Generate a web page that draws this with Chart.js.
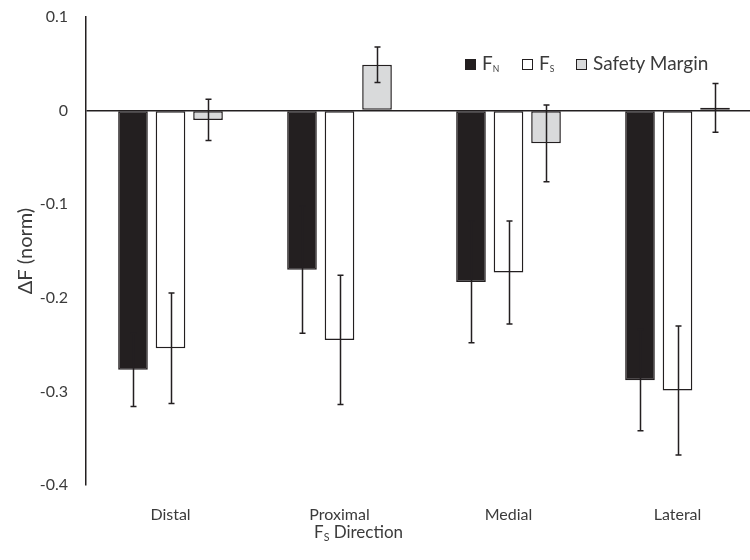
<!DOCTYPE html>
<html lang="en">
<head>
    <meta charset="UTF-8">
    <title>ΔF by shear direction</title>
    <script src="https://cdn.jsdelivr.net/npm/chart.js"></script>
    <style>
        html, body { margin: 0; padding: 0; background: #fff; overflow: hidden; }
        #wrap { position: relative; width: 750px; height: 560px; overflow: hidden; }
        #wrap canvas { position: absolute; left: 0; top: 0; }
        .lbl { position: absolute; font-family: Lato, sans-serif; color: #3b3b3b; white-space: nowrap; }
        .lbl sub { font-size: 45%; vertical-align: baseline; position: relative; top: 0.2em; }
        .leg { top: 52px; font-size: 19px; line-height: 22px; }
        .leg i { display: inline-block; width: 9px; height: 9px; border: 1.5px solid #231f20; vertical-align: 0px; margin-right: 6px; }
        #xtitle { left: 314px; top: 521px; font-size: 17px; }
        #xtitle sub { font-size: 62%; top: 0.3em; }
    </style>
</head>
<body>

<div id="wrap">
    <canvas id="chart" width="764" height="560"></canvas>
    <div class="lbl leg" style="left:465px"><i style="background:#231f20"></i>F<sub>N</sub></div>
    <div class="lbl leg" style="left:522px"><i style="background:#fff"></i>F<sub>S</sub></div>
    <div class="lbl leg" style="left:576px"><i style="background:#d9dadb"></i>Safety Margin</div>
    <div id="xtitle" class="lbl">F<sub>S</sub> Direction</div>
</div>

<script>
    // data
    const directions = ['Distal', 'Proximal', 'Medial', 'Lateral'];
    const fnValues = [-0.277, -0.170, -0.183, -0.288];
    const fnErrors = [0.039, 0.068, 0.065, 0.054];
    const fsValues = [-0.254, -0.245, -0.173, -0.299];
    const fsErrors = [0.059, 0.069, 0.055, 0.069];
    const smValues = [-0.010, 0.049, -0.035, 0.003];
    const smErrors = [0.022, 0.019, 0.041, 0.026];
    const yTicks = [0.1, 0, -0.1, -0.2, -0.3, -0.4];

    const ink = '#231f20';
    const textColor = '#3b3b3b';

    // draws the +/- error whiskers over each bar
    const errorBars = {
        id: 'errorBars',
        afterDatasetsDraw(chart) {
            const ctx = chart.ctx;
            const y = chart.scales.y;
            ctx.save();
            ctx.strokeStyle = ink;
            ctx.lineWidth = 1.5;
            chart.data.datasets.forEach((ds, i) => {
                const meta = chart.getDatasetMeta(i);
                meta.data.forEach((bar, j) => {
                    const v = ds.data[j];
                    const e = ds.errors[j];
                    const top = y.getPixelForValue(v + e);
                    const bot = y.getPixelForValue(v - e);
                    const x = Math.round(bar.x) + 0.5;
                    ctx.beginPath();
                    ctx.moveTo(x, top);
                    ctx.lineTo(x, bot);
                    ctx.moveTo(x - 3, top);
                    ctx.lineTo(x + 3, top);
                    ctx.moveTo(x - 3, bot);
                    ctx.lineTo(x + 3, bot);
                    ctx.stroke();
                });
            });
            ctx.restore();
        }
    };

    const common = {
        borderColor: ink,
        borderWidth: 1.5,
        borderSkipped: false,
        categoryPercentage: 0.666,
        barPercentage: 0.79
    };

    new Chart(document.getElementById('chart'), {
        type: 'bar',
        data: {
            labels: directions,
            datasets: [
                { ...common, label: 'FN', data: fnValues, errors: fnErrors, backgroundColor: ink },
                { ...common, label: 'FS', data: fsValues, errors: fsErrors, backgroundColor: '#ffffff' },
                { ...common, label: 'Safety Margin', data: smValues, errors: smErrors, backgroundColor: '#d9dadb' }
            ]
        },
        options: {
            responsive: false,
            animation: false,
            layout: { padding: { top: 17, right: 2, left: 0, bottom: 0 } },
            plugins: {
                legend: { display: false },
                tooltip: { enabled: false }
            },
            scales: {
                x: {
                    grid: { display: false },
                    border: { display: false },
                    ticks: {
                        color: textColor,
                        padding: 12,
                        font: { family: 'Lato', size: 16 }
                    },
                    afterFit(scale) { scale.height = 75; }
                },
                y: {
                    min: -0.4,
                    max: 0.1,
                    afterBuildTicks(scale) {
                        scale.ticks = yTicks.map(v => ({ value: v }));
                    },
                    grid: {
                        drawTicks: false,
                        lineWidth: 1.5,
                        color: c => (c.tick && c.tick.value === 0 ? ink : 'transparent')
                    },
                    border: { display: true, color: ink, width: 1.5 },
                    ticks: {
                        color: textColor,
                        padding: 18,
                        font: { family: 'Lato', size: 16 },
                        callback: v => (v === 0 ? '0' : v.toFixed(1))
                    },
                    title: {
                        display: true,
                        text: 'ΔF (norm)',
                        color: textColor,
                        font: { family: 'Lato', size: 20 },
                        padding: { top: 14, bottom: 0 }
                    },
                    afterFit(scale) {
                        scale.width = 86;
                        scale.paddingTop = 0;
                        scale.paddingBottom = 0;
                    }
                }
            }
        },
        plugins: [errorBars]
    });
</script>

</body>
</html>
